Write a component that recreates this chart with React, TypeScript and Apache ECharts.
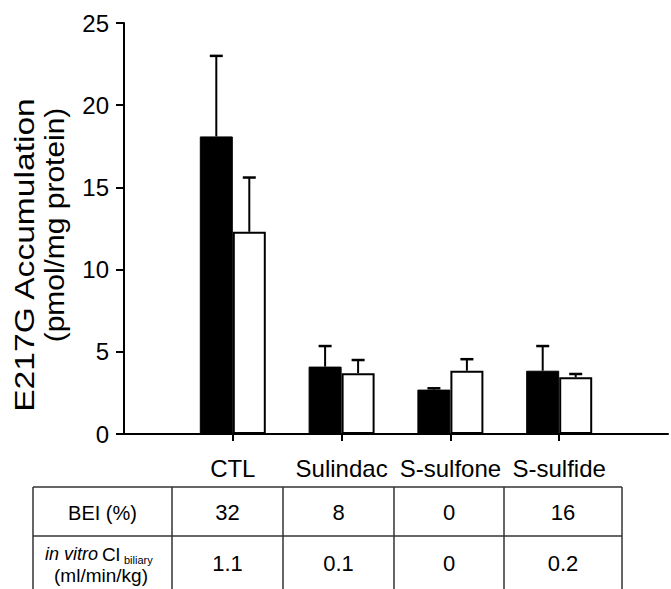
import React, { useEffect, useRef } from 'react';
import * as echarts from 'echarts';

const categories = ['CTL', 'Sulindac', 'S-sulfone', 'S-sulfide'];
const blackMeans = [18.1, 4.1, 2.7, 3.85];
const blackErrors = [4.9, 1.25, 0.08, 1.5];
const whiteMeans = [12.3, 3.7, 3.85, 3.45];
const whiteErrors = [3.3, 0.8, 0.7, 0.2];
const yMin = 0;
const yMax = 25;
const yInterval = 5;
const yTitleLine1 = 'E217G Accumulation';
const yTitleLine2 = '(pmol/mg protein)';
const beiLabel = 'BEI (%)';
const beiValues = ['32', '8', '0', '16'];
const clValues = ['1.1', '0.1', '0', '0.2'];

const FONT = '"Liberation Sans", Arial, sans-serif';
const BAR_W = 33;

export default function App() {
  const ref = useRef<HTMLDivElement>(null);

  useEffect(() => {
    if (!ref.current) return;
    const chart = echarts.init(ref.current, undefined, { renderer: 'svg' });

    const axisCats = ['', ...categories, ''];
    const pad = (arr: number[]) => ['-', ...arr, '-'];

    const errRender = (offset: number) => (params: any, api: any) => {
      const idx = api.value(0);
      const mean = api.value(1);
      const err = api.value(2);
      const base = api.coord([idx, mean]);
      const top = api.coord([idx, mean + err]);
      const x = base[0] + offset;
      return {
        type: 'group',
        children: [
          { type: 'line', shape: { x1: x, y1: base[1], x2: x, y2: top[1] }, style: { stroke: '#000', lineWidth: 2 } },
          { type: 'line', shape: { x1: x - 6.5, y1: top[1], x2: x + 6.5, y2: top[1] }, style: { stroke: '#000', lineWidth: 2.5 } },
        ],
      };
    };

    // table geometry
    const colX = [33, 172, 283, 394, 504, 622];
    const rowY = [487, 536, 600];
    const tableLineStyle = { stroke: '#333', lineWidth: 1.5 };
    const tableGraphics: any[] = [];
    rowY.forEach((y) => {
      tableGraphics.push({ type: 'line', shape: { x1: colX[0], y1: y, x2: colX[colX.length - 1], y2: y }, style: tableLineStyle });
    });
    colX.forEach((x) => {
      tableGraphics.push({ type: 'line', shape: { x1: x, y1: rowY[0], x2: x, y2: rowY[rowY.length - 1] }, style: tableLineStyle });
    });
    const txt = (text: string, x: number, y: number, size: number, extra: any = {}) => ({
      type: 'text',
      x,
      y,
      style: { text, fill: '#000', font: `${extra.fontStyle || 'normal'} ${size}px ${FONT}`, align: extra.align || 'center', verticalAlign: 'middle' },
    });
    tableGraphics.push(txt(beiLabel, 102.5, 513, 20));
    beiValues.forEach((v, i) => tableGraphics.push(txt(v, (colX[i + 1] + colX[i + 2]) / 2, 512, 22)));
    clValues.forEach((v, i) => tableGraphics.push(txt(v, (colX[i + 1] + colX[i + 2]) / 2, 563, 22)));
    tableGraphics.push(txt('in vitro', 45, 554, 18, { align: 'left', fontStyle: 'italic' }));
    tableGraphics.push(txt('Cl', 102, 554, 19, { align: 'left' }));
    tableGraphics.push(txt('biliary', 124, 560, 11, { align: 'left' }));
    tableGraphics.push(txt('(ml/min/kg)', 101, 575, 19));

    const option: any = {
      animation: false,
      backgroundColor: '#fff',
      grid: { left: 124, right: 0, top: 23, bottom: 155, containLabel: false },
      xAxis: {
        type: 'category',
        data: axisCats,
        boundaryGap: false,
        axisLine: { show: true, lineStyle: { color: '#000', width: 2 } },
        axisTick: { show: true, length: 7, lineStyle: { color: '#000', width: 2 }, interval: (i: number) => i > 0 && i < axisCats.length - 1 },
        axisLabel: { interval: 0, fontSize: 24, fontFamily: FONT, color: '#000', margin: 22 },
        splitLine: { show: false },
      },
      yAxis: {
        type: 'value',
        min: yMin,
        max: yMax,
        interval: yInterval,
        axisLine: { show: true, lineStyle: { color: '#000', width: 2 } },
        axisTick: { show: true, length: 8, lineStyle: { color: '#000', width: 2 } },
        axisLabel: { fontSize: 24, fontFamily: FONT, color: '#000', margin: 15 },
        splitLine: { show: false },
      },
      series: [
        {
          type: 'bar',
          data: pad(blackMeans),
          barWidth: BAR_W,
          barGap: '0%',
          itemStyle: { color: '#000', borderColor: '#000', borderWidth: 1 },
        },
        {
          type: 'bar',
          data: pad(whiteMeans),
          barWidth: BAR_W,
          barGap: '0%',
          itemStyle: { color: '#fff', borderColor: '#000', borderWidth: 2 },
        },
        {
          type: 'custom',
          renderItem: errRender(-BAR_W / 2),
          data: blackMeans.map((m, i) => [i + 1, m, blackErrors[i]]),
          encode: { x: 0, y: 1 },
          z: 5,
        },
        {
          type: 'custom',
          renderItem: errRender(BAR_W / 2),
          data: whiteMeans.map((m, i) => [i + 1, m, whiteErrors[i]]),
          encode: { x: 0, y: 1 },
          z: 5,
        },
      ],
      graphic: [
        {
          type: 'text',
          x: 24,
          y: 255,
          rotation: Math.PI / 2,
          scaleX: 1.2,
          style: { text: yTitleLine1, fill: '#000', font: `28px ${FONT}`, align: 'center', verticalAlign: 'middle' },
        },
        {
          type: 'text',
          x: 54,
          y: 225,
          rotation: Math.PI / 2,
          scaleX: 1.07,
          style: { text: yTitleLine2, fill: '#000', font: `28px ${FONT}`, align: 'center', verticalAlign: 'middle' },
        },
        ...tableGraphics,
      ],
    };

    chart.setOption(option);
    return () => chart.dispose();
  }, []);

  return <div ref={ref} style={{ position: 'absolute', left: 0, top: 0, width: 671, height: 589 }} />;
}
